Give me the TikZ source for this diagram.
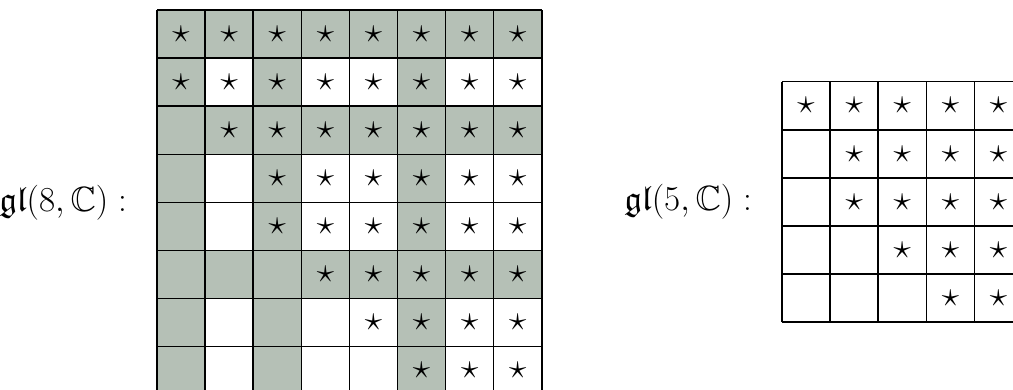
\documentclass[tikz,border=0pt]{standalone}
\usepackage{amsmath,amssymb}
\usepackage{tikz}
\usetikzlibrary{positioning}

\definecolor{blockgray}{RGB}{181,192,182}

\begin{document}
\begin{tikzpicture}[node distance=0.62cm,
    cellgrid/.style={line width=0.9pt},
    blockfill/.style={fill=blockgray},
    entry/.style={font=\huge, inner sep=0pt},
    lbl/.style={font=\huge, inner sep=0pt}]
  \useasboundingbox (0,0) rectangle (21.06,-8.108);

  % gl(8,C): diagonal blocks of sizes 2,3,3
  \begin{scope}[shift={(3.264,-0.208)}]
    \foreach \k in {1,3,6} {
      \fill[blockfill] (\k-1,0) rectangle (\k,-8);
      \fill[blockfill] (0,-\k+1) rectangle (8,-\k);
    }
    \draw[cellgrid] (0,-8) grid (8,0);
    \foreach \r/\s in {1/1,2/1,3/2,4/3,5/3,6/4,7/5,8/6}
      \foreach \c in {\s,...,8}
        \node[entry] at (\c-0.5,-\r+0.5) {$\star$};
    \coordinate (big) at (0,-4);
  \end{scope}
  \node[lbl, left=of big] (gl8) {$\mathfrak{gl}(8,\mathbb{C}) :$};

  % gl(5,C)
  \begin{scope}[shift={(16.258,-1.699)}]
    \draw[cellgrid] (0,-5) grid (5,0);
    \foreach \r/\s in {1/1,2/2,3/2,4/3,5/4}
      \foreach \c in {\s,...,5}
        \node[entry] at (\c-0.5,-\r+0.5) {$\star$};
    \coordinate (small) at (0,-2.5);
  \end{scope}
  \node[lbl, left=of small] (gl5) {$\mathfrak{gl}(5,\mathbb{C}) :$};
\end{tikzpicture}
\end{document}
